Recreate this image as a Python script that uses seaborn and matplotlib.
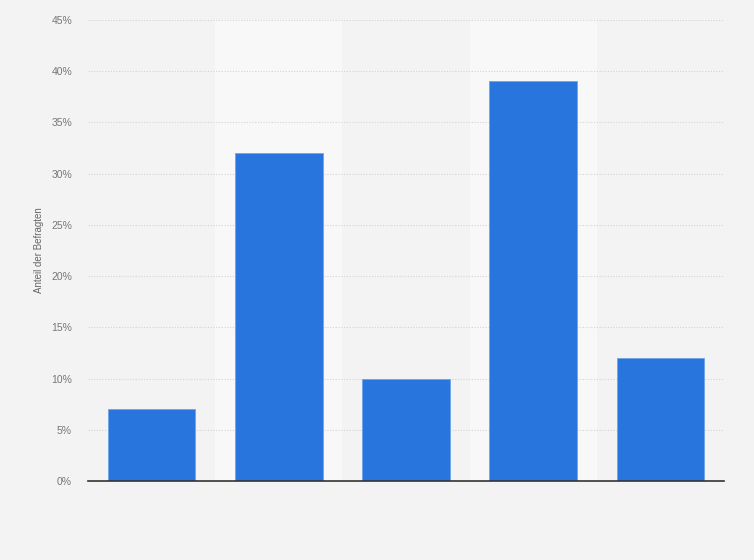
import matplotlib
matplotlib.use("Agg")
import matplotlib.pyplot as plt
import pandas as pd
import seaborn as sns
from matplotlib.ticker import FuncFormatter, MultipleLocator

# values (share of respondents, percent)
categories = ["Kategorie 1", "Kategorie 2", "Kategorie 3", "Kategorie 4", "Kategorie 5"]
shares = [7, 32, 10, 39, 12]
y_label = "Anteil der Befragten"

BG = "#f3f3f3"
BAND = "#f8f8f8"
BAR = "#2876dd"


def main() -> None:
    sns.set_theme(style="white")
    plt.rcParams["font.family"] = ["Liberation Sans", "DejaVu Sans"]

    df = pd.DataFrame({"category": categories, "share": shares})

    fig = plt.figure(figsize=(7.54, 5.6), dpi=100, facecolor=BG)
    ax = fig.add_axes([0.1167, 0.1411, 0.8435, 0.8232])
    ax.set_facecolor(BG)

    # lighter bands behind every second column
    for i in range(len(categories)):
        if i % 2 == 1:
            ax.axvspan(i - 0.5, i + 0.5, color=BAND, zorder=0, lw=0)

    sns.barplot(
        data=df, x="category", y="share", ax=ax, color=BAR, width=0.69,
        saturation=1, edgecolor="#6fa3ea", linewidth=0.6, zorder=3,
    )

    ax.set_xlim(-0.5, len(categories) - 0.5)
    ax.set_ylim(0, 45)
    ax.yaxis.set_major_locator(MultipleLocator(5))
    ax.yaxis.set_major_formatter(FuncFormatter(lambda v, _: f"{v:.0f}%"))
    ax.grid(axis="y", color="#d4d4d4", linestyle=(0, (1, 1.5)), linewidth=0.8, zorder=1)
    ax.set_axisbelow(True)

    ax.set_xticks(range(len(categories)))
    ax.set_xticklabels([])
    ax.tick_params(axis="x", length=0)
    ax.tick_params(axis="y", length=0, labelsize=7.5, labelcolor="#777777", pad=11.5)
    ax.set_xlabel("")
    ax.set_ylabel(y_label, fontsize=7, color="#666666", labelpad=5)

    for side in ["top", "right", "left"]:
        ax.spines[side].set_visible(False)
    ax.spines["bottom"].set_color("#333333")
    ax.spines["bottom"].set_linewidth(1.2)
    ax.spines["bottom"].set_zorder(4)

    fig.savefig("out.png", dpi=100, facecolor=BG)


if __name__ == "__main__":
    main()
